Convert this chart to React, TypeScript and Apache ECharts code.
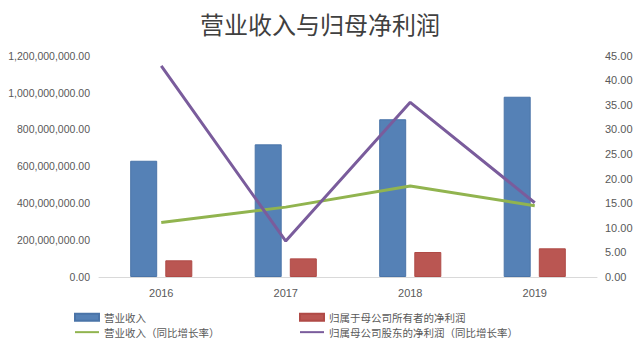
import React, { useEffect, useRef } from "react";
import * as echarts from "echarts";

const years = ["2016", "2017", "2018", "2019"];
const revenue = [630000000, 719000000, 855000000, 977000000];
const netProfit = [90500000, 101000000, 135500000, 155500000];
const revenueGrowth = [11.1, 14.2, 18.5, 14.5];
const profitGrowth = [42.9, 7.3, 35.5, 15.1];

const leftFmt = (v: number) =>
  v.toLocaleString("en-US", { minimumFractionDigits: 2, maximumFractionDigits: 2 });
const rightFmt = (v: number) => v.toFixed(2);

export default function App() {
  const ref = useRef<HTMLDivElement>(null);
  useEffect(() => {
    if (!ref.current) return;
    const chart = echarts.init(ref.current, undefined, { renderer: "svg" });
    const textColor = "#595959";
    const font = "Liberation Sans, Arial, sans-serif";
    const cjk = "Noto Sans CJK SC, sans-serif";
    const legendCommon = {
      orient: "vertical",
      top: 312,
      padding: 0,
      itemGap: 4.4,
      itemWidth: 24,
      itemHeight: 14,
      textStyle: { fontFamily: cjk, fontSize: 10.5, color: textColor },
    };
    chart.setOption({
      animation: false,
      backgroundColor: "#ffffff",
      title: {
        text: "营业收入与归母净利润",
        left: "center",
        top: 6,
        textStyle: { fontFamily: cjk, fontSize: 24, fontWeight: "normal", color: "#404040" },
      },
      grid: { left: 99, right: 43, top: 55.6, bottom: 77 },
      legend: [
        {
          ...legendCommon,
          left: 74,
          data: [
            { name: "营业收入", icon: "path://M0,4L24,4L24,11L0,11Z" },
            { name: "营业收入（同比增长率）", icon: "path://M0,6L24,6L24,8L0,8Z" },
          ],
        },
        {
          ...legendCommon,
          left: 299,
          data: [
            { name: "归属于母公司所有者的净利润", icon: "path://M0,4L24,4L24,11L0,11Z" },
            { name: "归属母公司股东的净利润（同比增长率）", icon: "path://M0,6L24,6L24,8L0,8Z" },
          ],
        },
      ],
      xAxis: {
        type: "category",
        data: years,
        axisLine: { lineStyle: { color: "#d9d9d9", width: 1 } },
        axisTick: { show: false },
        axisLabel: { color: textColor, fontFamily: font, fontSize: 11, margin: 10 },
      },
      yAxis: [
        {
          type: "value",
          min: 0,
          max: 1200000000,
          interval: 200000000,
          splitLine: { show: false },
          axisLine: { show: false },
          axisTick: { show: false },
          axisLabel: { color: textColor, fontFamily: font, fontSize: 10.5, formatter: leftFmt, margin: 9 },
        },
        {
          type: "value",
          min: 0,
          max: 45,
          interval: 5,
          splitLine: { show: false },
          axisLine: { show: false },
          axisTick: { show: false },
          axisLabel: { color: textColor, fontFamily: font, fontSize: 11, formatter: rightFmt, margin: 8 },
        },
      ],
      series: [
        {
          name: "营业收入",
          type: "bar",
          data: revenue,
          barWidth: 27,
          barGap: "30%",
          itemStyle: { color: "#5581B6", borderColor: "#4a74a8", borderWidth: 1 },
        },
        {
          name: "归属于母公司所有者的净利润",
          type: "bar",
          data: netProfit,
          barWidth: 27,
          barGap: "30%",
          itemStyle: { color: "#BA5652", borderColor: "#b04a46", borderWidth: 1 },
        },
        {
          name: "营业收入（同比增长率）",
          type: "line",
          yAxisIndex: 1,
          data: revenueGrowth,
          symbol: "none",
          lineStyle: { color: "#91B44F", width: 3 },
          itemStyle: { color: "#91B44F" },
        },
        {
          name: "归属母公司股东的净利润（同比增长率）",
          type: "line",
          yAxisIndex: 1,
          data: profitGrowth,
          symbol: "none",
          lineStyle: { color: "#7A5C9C", width: 3 },
          itemStyle: { color: "#7A5C9C" },
        },
      ],
    });
    return () => chart.dispose();
  }, []);
  return <div ref={ref} style={{ width: 640, height: 354, position: "absolute", left: 0, top: 0 }} />;
}
